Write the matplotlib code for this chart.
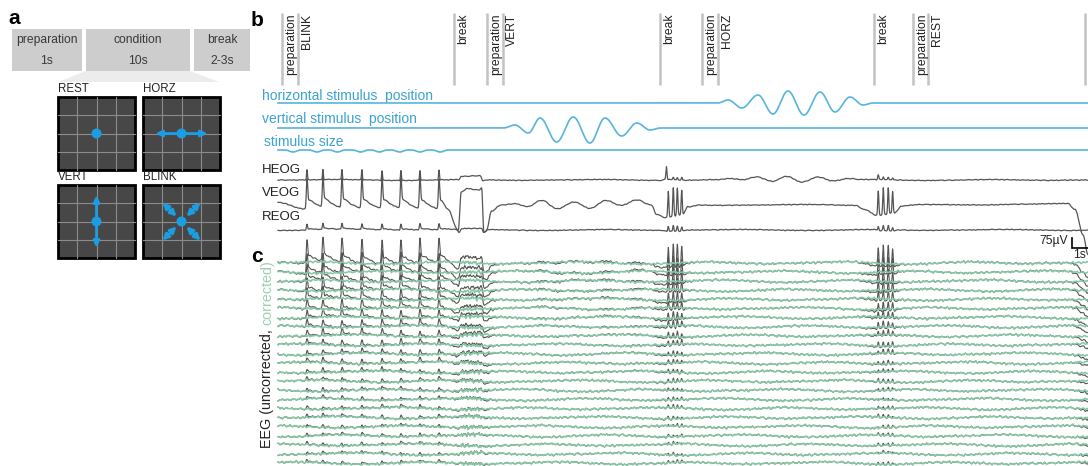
import numpy as np
import matplotlib
matplotlib.use('Agg')
import matplotlib.pyplot as plt
from matplotlib.patches import Rectangle, Polygon, Circle

plt.rcParams['font.family'] = ['Liberation Sans', 'DejaVu Sans']

# ---- values ----
# panel a: trial structure
phase_names = ['preparation', 'condition', 'break']
phase_durs = ['1s', '10s', '2-3s']
icon_names = ['REST', 'HORZ', 'VERT', 'BLINK']

# panel b: event markers (s)
event_t = [0.28, 1.26, 11.28, 13.42, 14.44, 24.46, 27.16, 28.19, 38.21, 40.72, 41.69, 51.73]
event_lbl = ['preparation', 'BLINK', 'break', 'preparation', 'VERT', 'break',
             'preparation', 'HORZ', 'break', 'preparation', 'REST', 'break']

# stimulus traces: extrema (s, px up)
hor_t = [0, 28.19, 28.85, 29.74, 30.77, 31.73, 32.69, 33.72, 34.74, 35.71, 36.67, 37.5, 38.14, 52]
hor_v = [0, 0, 3, -5, 8, -11, 12, -12, 11, -9, 6, -2, 0, 0]
vert_t = [0, 14.44, 15.19, 16.05, 16.8, 17.86, 18.93, 20.0, 20.96, 22.03, 23.0, 23.85, 24.5, 52]
vert_v = [0, 0, 3, -5, 10, -14, 11, -15, 10, -8, 5, -2, 0, 0]
size_dips = [0.96, 2.5, 3.8, 5.3, 6.5, 7.8, 9.1, 10.4]

# blinks (s)
blink_cond = [1.86, 2.88, 4.10, 5.38, 6.67, 7.88, 9.10, 10.32]
blink_burst1 = [25.02, 25.34, 25.6, 25.88]
blink_burst2 = [38.48, 38.8, 39.12, 39.4]

# EOG slow components (s, px up)
heog_t = [0, 11.6, 11.75, 12.95, 13.15, 13.4, 24.6, 24.8, 26.0, 28.19, 29.0, 29.8, 30.7,
          31.7, 32.6, 33.6, 34.6, 35.6, 36.6, 37.4, 52]
heog_v = [0, 0, 3, 4, -1, 0, 0, 1, 0, 0, 1, 0, 3, -1, 4, -2, 3, -1, 1, 0, 0]
veog_t = [0, 1.7, 10.4, 10.9, 11.55, 11.75, 12.1, 12.9, 13.05, 13.2, 13.35, 13.7, 14.3,
          15.2, 16.0, 16.9, 17.9, 19.0, 20.0, 21.0, 22.0, 23.0, 23.9, 24.3, 24.8, 25.9,
          26.3, 27.0, 37.0, 37.6, 38.4, 39.5, 40.0, 41.0, 50.6, 51.1, 51.6, 51.92]
veog_v = [2, -4, -6, -10, -27, 12, 16, 15, 17, -27, -26, -6, 0, 1, -2, 4, -4, 3, -3, 5,
          0, 5, 0, -10, -13, -10, -2, 0, 0, -4, -10, -8, -1, 0, 1, -5, -30, -50]
reog_t = [0, 11.45, 11.6, 11.8, 13.05, 13.2, 13.45, 24.6, 24.9, 25.9, 26.2, 38.3, 38.5,
          39.5, 39.8, 52]
reog_v = [0, 0, -3, 1, 1, -3, 0, 0, -1, -1, 0, 0, -1, -1, 0, 0]

# EEG: blink size (px) and eye-movement gain per channel, top to bottom
eeg_blink_px = [24, 20, 17, 14, 12, 10, 8.5, 7.5, 6.5, 5.5, 5, 4.5, 4, 3.5, 3.5, 3, 3, 3, 2.5, 2.5, 2.5, 2.5, 2.5]
eeg_eye_gain = [0.32, 0.28, 0.25, 0.22, 0.2, 0.18, 0.16, 0.14, 0.12, 0.1, 0.09, 0.08,
                0.07, 0.06, 0.05, 0.05, 0.04, 0.04, 0.03, 0.03, 0.03, 0.03, 0.03]

# hand-typed wiggle texture for the background activity
TEX_A = [0.3, -0.8, 0.5, 1.1, -0.2, -1.0, 0.7, 0.1, -0.5, 0.9, -1.2, 0.4, 0.0, 0.8, -0.6,
         -0.3, 1.0, -0.9, 0.2, 0.6, -1.1, 0.5, -0.4, 0.9, -0.7, 0.1, 1.2, -0.5, -0.2, 0.7,
         -1.0, 0.3, 0.6, -0.8, 0.0, 1.0, -0.6, 0.4, -1.1, 0.8, 0.2, -0.3, 0.9, -0.9, 0.5,
         -0.1, 1.1]
TEX_B = [0.5, -0.6, 0.2, 0.9, -0.4, -0.9, 0.6, -0.1, 0.8, -0.7, 0.3, -0.3, 1.0, -0.5, 0.1,
         0.7, -1.0, 0.4, -0.2, 0.6, -0.8, 0.9, 0.0, -0.6, 0.5, -0.4, 0.8, -0.9, 0.2, 0.4, -0.3]
WANDER = [0.0, 0.6, 1.0, 0.4, -0.5, -1.0, -0.6, 0.2, 0.9, 0.5, -0.3, -0.8, -0.2]

# ---- colours / layout ----
BLUE = '#1b9de2'
STIM = '#55b5dc'
STIM_TXT = '#3aa3d0'
DARK = '#555555'
GREEN = '#86c6a3'
TXT = '#222222'

W, H = 1088, 466
PX_PER_S = 15.6
T0_PX = 278


def eased(t, kt, kv):
    kt = np.asarray(kt, float)
    kv = np.asarray(kv, float)
    i = np.clip(np.searchsorted(kt, t, side='right') - 1, 0, len(kt) - 2)
    u = np.clip((t - kt[i]) / (kt[i + 1] - kt[i]), 0, 1)
    w = 0.5 - 0.5 * np.cos(np.pi * u)
    return kv[i] + (kv[i + 1] - kv[i]) * w


def spikes(t, times, amps, width=0.06, tail=0.0, decay=0.6):
    out = np.zeros_like(t)
    for tb, a in zip(times, amps):
        d = t - tb
        out += a * np.exp(-(d / width) ** 2)
        if tail:
            dp = np.clip(d, 0, None)
            out += a * tail * np.exp(-dp / decay) * (1 - np.exp(-dp / 0.08))
    return out


def texture(t, k, amp, boost=None):
    a = np.interp(t / 0.13 + 11 * k, np.arange(len(TEX_A)), TEX_A, period=len(TEX_A))
    b = np.interp(t / 0.07 + 5 * k, np.arange(len(TEX_B)), TEX_B, period=len(TEX_B))
    w = np.interp(t / 1.3 + 3 * k, np.arange(len(WANDER)), WANDER, period=len(WANDER))
    if boost is not None:
        b = b * boost
    return amp * (0.7 * a + 0.4 * b + 1.1 * w)


fig = plt.figure(figsize=(10.88, 4.66), dpi=100)
ax0 = fig.add_axes([0, 0, 1, 1])
ax0.set_xlim(0, W)
ax0.set_ylim(H, 0)
ax0.axis('off')

# ---------------- panel a ----------------
ax0.text(8, 19, 'a', fontsize=15, fontweight='bold', va='center', ha='left')
box_x = [(12, 82), (86, 190), (194, 250)]
ax0.add_patch(Polygon([(86, 71), (190, 71), (219, 82), (58, 82)], closed=True,
                      fc='#ececec', ec='none'))
for (x0, x1), name, dur in zip(box_x, phase_names, phase_durs):
    ax0.add_patch(Rectangle((x0, 29), x1 - x0, 42, fc='#cdcdcd', ec='none'))
    ax0.text((x0 + x1) / 2, 40, name, ha='center', va='center', fontsize=8.7, color='#3a3a3a')
    ax0.text((x0 + x1) / 2, 61, dur, ha='center', va='center', fontsize=8.7, color='#3a3a3a')

icon_xy = [(58, 97), (143, 97), (58, 185), (143, 185)]
iw, ih = 77, 73
for name, (x0, y0) in zip(icon_names, icon_xy):
    ax0.add_patch(Rectangle((x0, y0), iw, ih, fc='#474747', ec='black', lw=2, zorder=2))
    for j in (1, 2, 3):
        ax0.plot([x0 + iw * j / 4] * 2, [y0, y0 + ih], color='#8c8c8c', lw=0.8, zorder=3)
        ax0.plot([x0, x0 + iw], [y0 + ih * j / 4] * 2, color='#8c8c8c', lw=0.8, zorder=3)
    ax0.text(x0, y0 - 1.5, name, ha='left', va='bottom', fontsize=8.3, color=TXT)
    cx, cy = x0 + iw / 2, y0 + ih / 2
    ax0.add_patch(Circle((cx, cy), 5, fc=BLUE, ec='none', zorder=6))
    if name == 'HORZ':
        arrows = [((cx, cy), (cx - 26, cy), '-|>'), ((cx, cy), (cx + 26, cy), '-|>')]
    elif name == 'VERT':
        arrows = [((cx, cy), (cx, cy - 26), '-|>'), ((cx, cy), (cx, cy + 26), '-|>')]
    elif name == 'BLINK':
        arrows = [((cx + sx * 5, cy + sy * 5), (cx + sx * 19, cy + sy * 19), '<|-|>')
                  for sx in (-1, 1) for sy in (-1, 1)]
    else:
        arrows = []
    for p0, p1, style in arrows:
        ax0.annotate('', xy=p1, xytext=p0, zorder=5,
                     arrowprops=dict(arrowstyle=style, color=BLUE, lw=2.0,
                                     mutation_scale=9, shrinkA=0, shrinkB=0))

# ---------------- panels b and c ----------------
ax = fig.add_axes([250 / W, 0, (W - 250) / W, 1])
ax.set_xlim((250 - T0_PX) / PX_PER_S, (W - T0_PX) / PX_PER_S)
ax.set_ylim(H, 0)
ax.axis('off')

ax0.text(251, 20, 'b', fontsize=15, fontweight='bold', va='center', ha='left')
ax0.text(251, 257, 'c', fontsize=15, fontweight='bold', va='center', ha='left')

# event markers
ax.vlines(event_t, 13, 85, color='#c2c2c2', lw=1.8)
for tt, lbl in zip(event_t, event_lbl):
    ax.text(tt + 0.2, 13.5, lbl, rotation=90, ha='left', va='top', fontsize=8.7,
            color=TXT)

t = np.arange(0, 51.95, 0.02)

# stimulus traces
size_t = [0]
size_v = [0]
for d in size_dips:
    size_t += [d - 0.5, d, d + 0.5]
    size_v += [0, -2, 0]
size_t.append(52)
size_v.append(0)
ax.plot(t, 103 - eased(t, hor_t, hor_v), color=STIM, lw=1.2)
ax.plot(t, 128 - eased(t, vert_t, vert_v), color=STIM, lw=1.2)
ax.plot(t, 150 - eased(t, size_t, size_v), color=STIM, lw=1.2)
ax0.text(262, 96, 'horizontal stimulus  position', fontsize=10, color=STIM_TXT, va='center')
ax0.text(262, 119, 'vertical stimulus  position', fontsize=10, color=STIM_TXT, va='center')
ax0.text(264, 142, 'stimulus size', fontsize=10, color=STIM_TXT, va='center')

# EOG
veog_slow = eased(t, veog_t, veog_v)
veog_blinks = (spikes(t, blink_cond, [30] * 8, tail=0.45)
               + spikes(t, blink_burst1, [26, 28, 27, 24], width=0.05)
               + spikes(t, blink_burst2, [24, 27, 26, 22], width=0.05))
heog = (eased(t, heog_t, heog_v)
        + spikes(t, blink_cond, [10] * 8, width=0.04)
        + spikes(t, [24.9] + blink_burst1[1:], [13, 3, 3, 3], width=0.05)
        + spikes(t, blink_burst2, [5, 3, 3, 2], width=0.05))
reog = (eased(t, reog_t, reog_v)
        + spikes(t, blink_cond, [6] * 8, width=0.05, tail=0.3)
        + spikes(t, blink_burst1, [5, 6, 5, 4], width=0.05)
        + spikes(t, blink_burst2, [4, 5, 5, 3], width=0.05))
veog = veog_slow + veog_blinks

for base, sig, k in [(180, heog, 30), (205, veog, 31), (230, reog, 32)]:
    ax.plot(t, base - sig - texture(t, k, 0.5), color=DARK, lw=0.9)
for y, lbl in [(170, 'HEOG'), (193, 'VEOG'), (217, 'REOG')]:
    ax0.text(262, y, lbl, fontsize=9.5, color=TXT, va='center')

# scale bar
sx = (1072 - T0_PX) / PX_PER_S
ax.plot([sx, sx, sx + 1], [238, 248, 248], color='black', lw=1.2, solid_joinstyle='miter')
ax0.text(1068, 241, '75\u00b5V', fontsize=8.7, ha='right', va='center', color=TXT)
ax0.text(1080, 255, '1s', fontsize=8.7, ha='center', va='center', color=TXT)

# EEG
eeg_base = [263 + 9.1 * k for k in range(len(eeg_blink_px))]
blink_unit = veog_blinks / 30.0
boost = 1 + 2.5 * ((t > 11.75) & (t < 13.05))
clean = []
for k, base in enumerate(eeg_base):
    clean_k = base - texture(t, k, 1.2, boost=boost)
    dirty_k = clean_k - eeg_blink_px[k] * blink_unit - eeg_eye_gain[k] * veog_slow
    ax.plot(t, dirty_k, color=DARK, lw=0.8)
    clean.append(clean_k)
for clean_k in clean:
    ax.plot(t, clean_k, color=GREEN, lw=1.1)

# two-colour EEG label
lab1 = ax0.text(267, 448, 'EEG (uncorrected, ', rotation=90, ha='center', va='bottom',
                fontsize=10.3, color=TXT)
fig.canvas.draw()
bb = lab1.get_window_extent()
ytop = ax0.transData.inverted().transform((bb.x0, bb.y1))[1]
ax0.text(267, ytop, 'corrected)', rotation=90, ha='center', va='bottom',
         fontsize=10.3, color='#9ccfb5')

fig.savefig('out.png', dpi=100)
